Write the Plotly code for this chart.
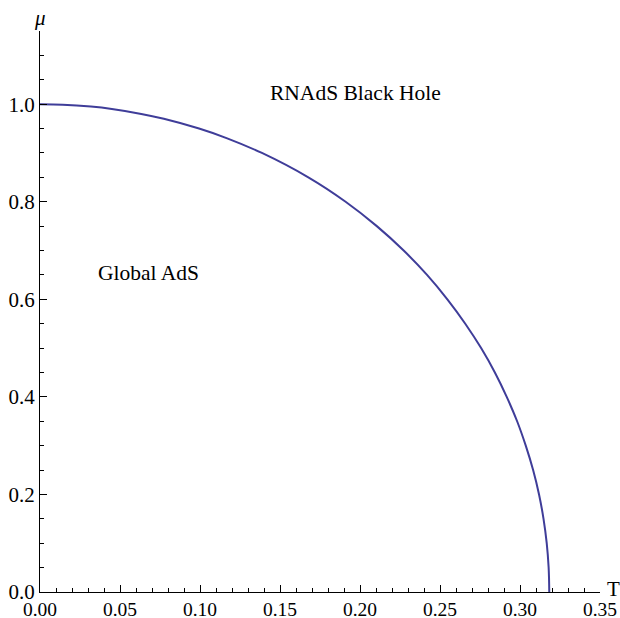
import plotly.graph_objects as go

# Phase boundary (T, mu)
boundary_mu = [0.0, 0.05, 0.1, 0.15, 0.2, 0.25, 0.3, 0.35, 0.4, 0.45, 0.5, 0.55, 0.6, 0.65, 0.7,
               0.75, 0.8, 0.85, 0.9, 0.93, 0.95, 0.97, 0.98, 0.99, 0.995, 0.999, 1.0]
boundary_T = [0.3183, 0.3179, 0.3167, 0.3147, 0.3119, 0.3082, 0.3036, 0.2982, 0.2917, 0.2843,
              0.2757, 0.2658, 0.2546, 0.2419, 0.2273, 0.2105, 0.1910, 0.1677, 0.1387, 0.1170,
              0.0994, 0.0774, 0.0633, 0.0449, 0.0318, 0.0142, 0.0]

region_labels = ["RNAdS Black Hole", "Global AdS"]
region_T = [0.197, 0.068]
region_mu = [1.022, 0.654]

x_ticks = [0.0, 0.05, 0.10, 0.15, 0.20, 0.25, 0.30, 0.35]
y_ticks = [0.0, 0.2, 0.4, 0.6, 0.8, 1.0]

FONT = "Liberation Serif"
LINE = "rgb(63,61,153)"

fig = go.Figure()
fig.add_trace(go.Scatter(x=boundary_T, y=boundary_mu, mode="lines",
                         line=dict(color=LINE, width=2, shape="spline", smoothing=1),
                         hoverinfo="skip", showlegend=False))

for txt, tx, my in zip(region_labels, region_T, region_mu):
    fig.add_annotation(x=tx, y=my, text=txt, showarrow=False,
                       font=dict(family=FONT, size=21.5, color="black"))

fig.add_annotation(xref="paper", yref="paper", x=0, y=1.0, text="<i>μ</i>",
                   showarrow=False, xanchor="center", yanchor="middle", yshift=13,
                   font=dict(family=FONT, size=21, color="black"))
fig.add_annotation(xref="paper", yref="paper", x=1.0, y=0, text="T",
                   showarrow=False, xanchor="left", yanchor="middle", xshift=5, yshift=3,
                   font=dict(family=FONT, size=21, color="black"))

fig.update_layout(
    width=620, height=618,
    margin=dict(l=40, r=20, t=31, b=26),
    paper_bgcolor="white", plot_bgcolor="white",
    font=dict(family=FONT, size=20, color="black"),
    showlegend=False,
)
fig.update_xaxes(range=[0, 0.35], tickvals=x_ticks, tickformat=".2f",
                 showgrid=False, zeroline=False, showline=True, linecolor="black", linewidth=1,
                 ticks="inside", ticklen=7, tickcolor="black", tickwidth=1,
                 tickfont=dict(family=FONT, size=19.5, color="black"),
                 minor=dict(dtick=0.01, tick0=0, ticks="inside", ticklen=4, tickcolor="black", tickwidth=1, showgrid=False),
                 automargin=False, fixedrange=True)
fig.update_yaxes(range=[0, 1.15], tickvals=y_ticks, tickformat=".1f",
                 showgrid=False, zeroline=False, showline=True, linecolor="black", linewidth=1,
                 ticks="inside", ticklen=7, tickcolor="black", tickwidth=1,
                 tickfont=dict(family=FONT, size=21, color="black"),
                 minor=dict(dtick=0.05, tick0=0, ticks="inside", ticklen=4, tickcolor="black", tickwidth=1, showgrid=False),
                 automargin=False, fixedrange=True)

fig.write_html("out.html", config={"displayModeBar": False},
               post_script="document.body.style.margin='0';document.body.style.overflow='hidden';")
